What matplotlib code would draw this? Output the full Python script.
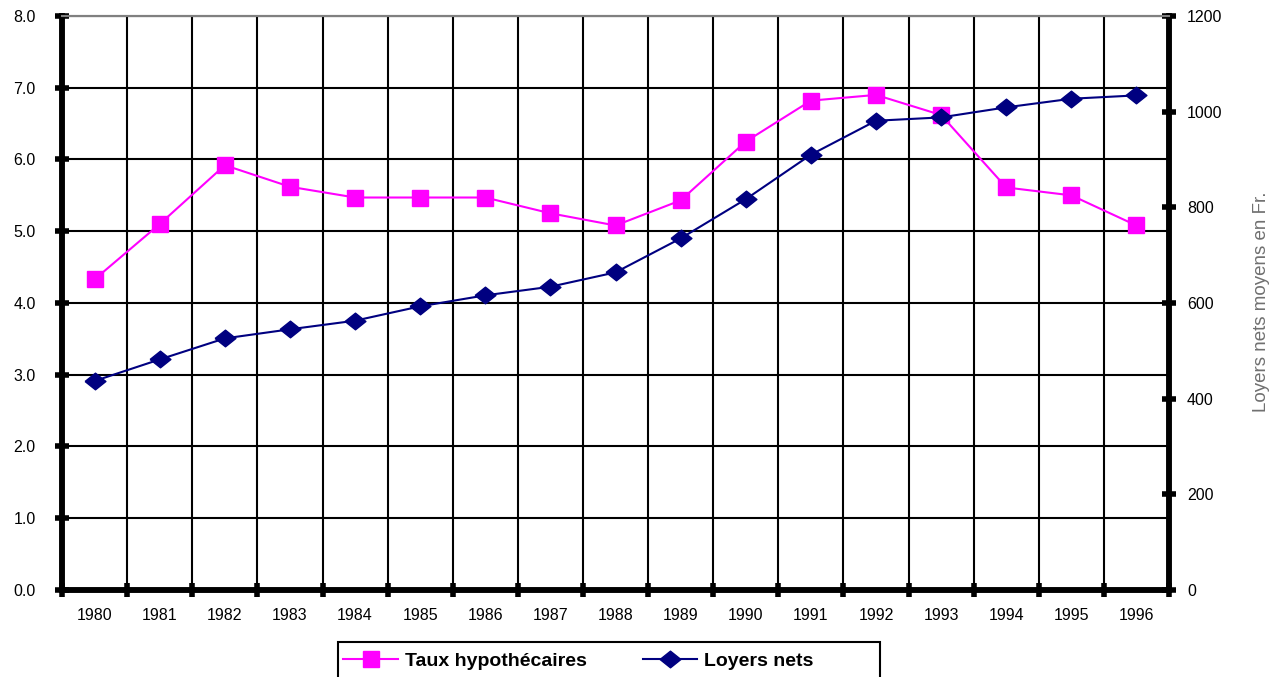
import numpy as np
import matplotlib
matplotlib.use("Agg")
import matplotlib.pyplot as plt
from matplotlib.patches import Rectangle

plt.rcParams['font.family'] = ['Liberation Sans', 'DejaVu Sans']

years = ['1980', '1981', '1982', '1983', '1984', '1985', '1986', '1987', '1988',
         '1989', '1990', '1991', '1992', '1993', '1994', '1995', '1996']
taux = [4.33, 5.10, 5.92, 5.62, 5.47, 5.47, 5.47, 5.25, 5.08,
        5.43, 6.25, 6.82, 6.90, 6.62, 5.61, 5.50, 5.08]
loyers = [437, 482, 526, 545, 563, 593, 616, 634, 664,
          735, 817, 910, 981, 988, 1009, 1027, 1034]

left_ticks = np.arange(0, 8.1, 1.0)
right_ticks = np.arange(0, 1201, 200)

# a slightly flattened diamond, like the excel one
diamond = [(-1, 0), (0, 0.8), (1, 0), (0, -0.8), (-1, 0)]

fig = plt.figure(figsize=(12.74, 6.77), dpi=100)
ax = fig.add_axes([0.0487, 0.1285, 0.8689, 0.8479])
ax2 = ax.twinx()

x = np.arange(len(years))
ax.plot(x, taux, color='#ff00ff', lw=1.5, marker='s', ms=11,
        mec='#ff00ff', label='Taux hypothécaires', zorder=3)
ax2.plot(x, loyers, color='#000080', lw=1.5, marker=diamond, ms=15,
         mec='#000080', label='Loyers nets', zorder=3)

ax.set_xlim(-0.5, len(years) - 0.5)
ax.set_ylim(0, 8)
ax2.set_ylim(0, 1200)

ax.set_yticks(left_ticks)
ax.set_yticklabels([f'{v:.1f}' for v in left_ticks])
ax2.set_yticks(right_ticks)
ax2.set_yticklabels([str(int(v)) for v in right_ticks])

# year labels at the centres, ticks / grid at the boundaries
ax.set_xticks(x)
ax.set_xticklabels(years)
ax.set_xticks(np.arange(-0.5, len(years) + 0.5, 1.0), minor=True)
ax.tick_params(axis='x', which='major', length=0, pad=13, labelsize=11.5)
ax.tick_params(axis='x', which='minor', direction='inout', length=10, width=4)
ax.tick_params(axis='y', direction='inout', length=10, width=4, labelsize=11.5, pad=14)
ax2.tick_params(axis='y', direction='inout', length=10, width=4, labelsize=11.5, pad=8)

ax.grid(True, which='minor', axis='x', color='black', lw=1.5)
ax.grid(True, which='major', axis='y', color='black', lw=1.5)
ax.set_axisbelow(True)

for a in (ax, ax2):
    a.spines['left'].set_linewidth(4)
    a.spines['right'].set_linewidth(4)
    a.spines['bottom'].set_linewidth(4)
    a.spines['top'].set_color('#808080')
    a.spines['top'].set_linewidth(1.5)

fig.text(0.9905, 0.554, 'Loyers nets moyens en Fr.', rotation=90, ha='center',
         va='center', color='#707070', fontsize=13.5)

h1, l1 = ax.get_legend_handles_labels()
h2, l2 = ax2.get_legend_handles_labels()
leg = fig.legend(h1 + h2, l1 + l2, loc='center left', bbox_to_anchor=(0.265, 0.0235),
                 ncol=2, frameon=False,
                 prop={'weight': 'bold', 'size': 14}, handlelength=2.8,
                 columnspacing=2.9, borderpad=0.3, handletextpad=0.35,
                 borderaxespad=0)
# legend box runs off the bottom of the picture, as in the original
fig.patches.append(Rectangle((0.2655, -0.02), 0.425, 0.0715, transform=fig.transFigure,
                             fill=False, edgecolor='black', lw=1.5))

fig.savefig('out.png', dpi=100)
